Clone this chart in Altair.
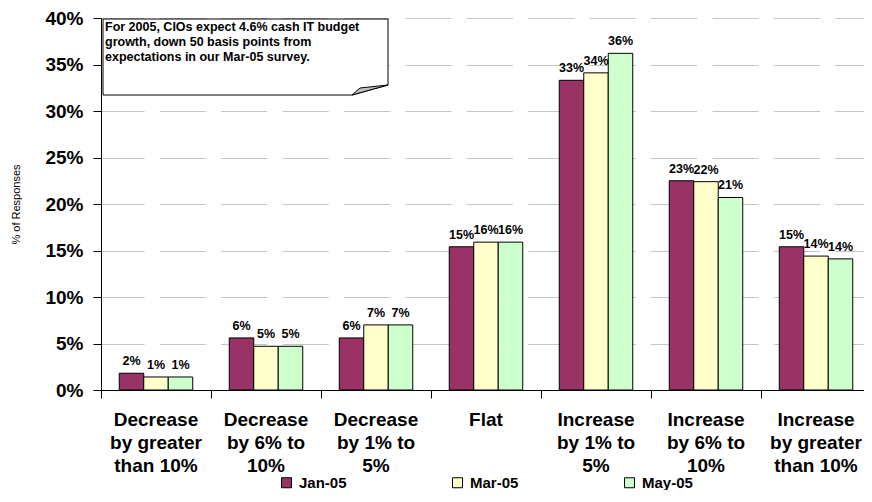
import altair as alt
import pandas as pd

CATEGORIES = [
    "Decrease|by greater|than 10%",
    "Decrease|by 6% to|10%",
    "Decrease|by 1% to|5%",
    "Flat",
    "Increase|by 1% to|5%",
    "Increase|by 6% to|10%",
    "Increase|by greater|than 10%",
]
SERIES = ["Jan-05", "Mar-05", "May-05"]
JAN_05 = [1.8, 5.6, 5.6, 15.4, 33.3, 22.5, 15.4]
MAR_05 = [1.4, 4.7, 7.0, 15.9, 34.1, 22.4, 14.4]
MAY_05 = [1.4, 4.7, 7.0, 15.9, 36.2, 20.7, 14.1]
COLORS = ["#993366", "#FFFFCC", "#CCFFCC"]
Y_TICKS = [0, 5, 10, 15, 20, 25, 30, 35, 40]
Y_TITLE = "% of Responses"
NOTE_LINES = [
    "For 2005, CIOs expect 4.6% cash IT budget",
    "growth, down 50 basis points from",
    "expectations in our Mar-05 survey.",
]

rows = []
for s, vals in zip(SERIES, [JAN_05, MAR_05, MAY_05]):
    for c, v in zip(CATEGORIES, vals):
        rows.append({"category": c, "series": s, "value": v})
df = pd.DataFrame(rows)

FONT = "Liberation Sans"
PLOT_W = 763
PLOT_H = 372
BAND_RANGE = 770

x_enc = alt.X(
    "category:N",
    sort=CATEGORIES,
    scale=alt.Scale(range=[0, BAND_RANGE], paddingInner=0, paddingOuter=0),
    axis=alt.Axis(
        title=None,
        bandPosition=0,
        labelExpr="split(datum.label, '|')",
        labelAngle=0,
        labelFont=FONT,
        labelFontSize=19,
        labelFontWeight="bold",
        labelColor="black",
        labelLineHeight=23,
        labelBaseline="top",
        labelPadding=12,
        labelLimit=300,
        labelOverlap=False,
        tickSize=8,
        tickColor="black",
        domainColor="black",
        grid=False,
    ),
)
xoff_enc = alt.XOffset(
    "series:N", sort=SERIES, scale=alt.Scale(paddingOuter=0.745, paddingInner=0)
)
y_enc = alt.Y(
    "value:Q",
    scale=alt.Scale(domain=[0, 40], nice=False),
    axis=alt.Axis(
        title=Y_TITLE,
        titleFont=FONT,
        titleFontSize=11,
        titleFontWeight="normal",
        titleColor="black",
        titlePadding=23,
        values=Y_TICKS,
        labelExpr="datum.value + '%'",
        labelFont=FONT,
        labelFontSize=19,
        labelFontWeight="bold",
        labelColor="black",
        labelPadding=10,
        tickSize=8,
        tickColor="black",
        domainColor="black",
        grid=True,
        gridColor="#c4c4c4",
        gridDash=[46, 15.4],
        gridDashOffset=3,
    ),
)

base = alt.Chart(df)

bars = base.mark_bar(stroke="black", strokeWidth=1).encode(
    x=x_enc,
    xOffset=xoff_enc,
    y=y_enc,
    color=alt.Color(
        "series:N",
        sort=SERIES,
        scale=alt.Scale(domain=SERIES, range=COLORS),
        legend=alt.Legend(
            title=None,
            orient="none",
            direction="horizontal",
            legendX=178,
            legendY=457,
            padding=0,
            symbolType="square",
            symbolSize=100,
            symbolStrokeColor="black",
            symbolStrokeWidth=1,
            labelFont=FONT,
            labelFontSize=15,
            labelFontWeight="bold",
            labelColor="black",
            labelOffset=5,
            columnPadding=103,
        ),
    ),
)

labels = base.transform_calculate(
    label="format(datum.value, '.0f') + '%'"
).mark_text(
    font=FONT, fontSize=12.5, fontWeight="bold", color="black", baseline="alphabetic", dy=-8
).encode(x=x_enc, xOffset=xoff_enc, y=y_enc, text="label:N")

one = pd.DataFrame({"k": [0]})
note_box = alt.Chart(one).mark_point(
    shape="M0,0 H285 V66 L249,76 H0 Z",
    size=4,
    filled=True,
    fill="white",
    stroke="black",
    strokeWidth=1,
    opacity=1,
).encode(x=alt.value(2), y=alt.value(1))

note_fold = alt.Chart(one).mark_point(
    shape="M249,76 L285,66 L257,69 Z",
    size=4,
    filled=True,
    fill="#c0c0c0",
    stroke="black",
    strokeWidth=1,
    opacity=1,
).encode(x=alt.value(2), y=alt.value(1))

note_text = alt.Chart(one).mark_text(
    text=NOTE_LINES,
    font=FONT,
    fontSize=12.5,
    fontWeight="bold",
    color="black",
    align="left",
    baseline="alphabetic",
    lineHeight=15,
).encode(x=alt.value(4), y=alt.value(13))

chart = (
    alt.layer(bars, labels, note_box, note_fold, note_text)
    .properties(
        width=PLOT_W,
        height=PLOT_H,
        autosize=alt.AutoSizeParams(type="none"),
        padding={"left": 93, "top": 10, "right": 0, "bottom": 100},
    )
    .configure(font=FONT)
    .configure_view(strokeWidth=0)
)

chart.save("out.html", embed_options={"renderer": "svg", "actions": False})
